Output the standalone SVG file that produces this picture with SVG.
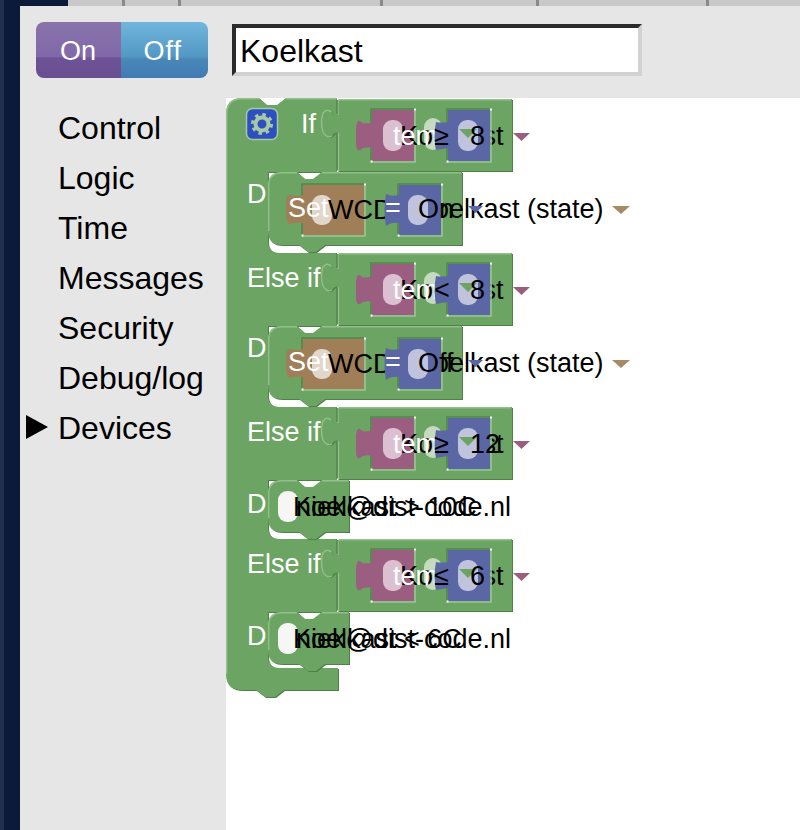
<svg xmlns="http://www.w3.org/2000/svg" xmlns:xlink="http://www.w3.org/1999/xlink" width="800" height="830" viewBox="0 0 800 830">
<style>
text{font-family:"Liberation Sans",Arial,sans-serif;font-size:27px;fill:#000}
.w{fill:#fff}
.menu{font-size:32px}
.g{fill:#6ba463}
.gd{fill:#4f8048}
.hl{fill:none;stroke:#93bf8d;stroke-width:1.4}
.sd{fill:none;stroke:#4f8048;stroke-width:1.2}
.edge{fill:none;stroke:#9cc596;stroke-width:1.6}
.edgeD{fill:none;stroke:#54864d;stroke-width:1.6}
.dot{fill:#fff}
.pink{fill:#9c5e80}
.blue{fill:#5b67a5}
.tan{fill:#a07e58}
</style>
<defs>
<linearGradient id="gOn" x1="0" y1="0" x2="0" y2="1"><stop offset="0" stop-color="#8874aa"/><stop offset=".62" stop-color="#8268aa"/><stop offset=".64" stop-color="#6e5296"/><stop offset="1" stop-color="#684f90"/></linearGradient>
<linearGradient id="gOff" x1="0" y1="0" x2="0" y2="1"><stop offset="0" stop-color="#70b6dc"/><stop offset=".62" stop-color="#5397c4"/><stop offset=".66" stop-color="#4a87b8"/><stop offset="1" stop-color="#3f7bb2"/></linearGradient>
<path id="mainShape" d="M226 114Q226 98 242 98H259L267 105H277L286 98H338V172H268V241Q268 253 280 253H338V326H268V395Q268 407 280 407H338V480H268V527Q268 539 280 539H338V612H268V656Q268 668 280 668H338V690H284L275 697H265L256 690H242Q226 690 226 674Z"/>
<path id="valShape" d="M338 99H512V171H338V133Q335 131 332 136Q327 139 323 132Q320 122 323 113Q327 108 331 112Q334 117 338 115Z"/>
<path id="nestLong" d="M268 186Q268 172 282 172H297L305 179H313L322 172H462V245H325L316 252H308L299 245H282Q268 245 268 231Z"/>
<path id="nestShort" d="M268 494Q268 480 282 480H297L305 487H313L322 480H349V532H325L316 539H308L299 532H282Q268 532 268 518Z"/>
<g id="cond">
<use xlink:href="#valShape" transform="translate(1 1)" class="gd"/>
<use xlink:href="#valShape" class="g"/>
<path class="hl" d="M338 99.700H511M331 112Q327 108 323 113Q320 122 323 132Q327 139 332 136M338 99V115M338.500 133V171"/>
<path class="sd" d="M337 99V114M337 134V171"/>
<rect class="dot" x="337" y="98" width="1.500" height="2"/>
<rect class="dot" x="337" y="170.500" width="1.500" height="2"/>
<path class="edgeD" d="M371 162V109H415"/>
<path class="edge" d="M415 109V162H371"/>
<path class="pink" d="M372 110H414V161H372V148Q364 146 360 150Q356 152 356 142V128Q357 118 361 122Q365 125 372 122Z"/>
<rect class="dot" x="414" y="108.500" width="2" height="2"/>
<rect class="dot" x="370.500" y="160.500" width="2" height="2"/>
<rect x="383" y="120" width="20" height="31" rx="9" fill="#dac0d1"/>
<rect x="424" y="118" width="18" height="32" rx="9" fill="#c6dabf"/>
</g>
<g id="condBlue">
<path class="edgeD" d="M447 162V109H491"/>
<path class="edge" d="M491 109V162H447"/>
<path class="blue" d="M448 110H490V161H448V148Q441 149 436 150Q433 138 436 122Q441 123 448 122Z"/>
<rect class="dot" x="490" y="108.500" width="2" height="2"/>
<rect class="dot" x="446.500" y="160.500" width="2" height="2"/>
<rect x="458" y="120" width="20" height="31" rx="9" fill="#bfc3dd"/>
</g>
<path id="triG" class="g" d="M459 129H477L468 138Z"/>
<path id="triP" d="M513 133H530L521.500 141Z" fill="#9c5e80"/>
<g id="setBody">
<use xlink:href="#nestLong" transform="translate(1 1)" class="gd"/>
<use xlink:href="#nestLong" class="g"/>
<path class="hl" d="M322 172.700H461M268.700 231V186Q268.700 172.700 282 172.700H297"/>
<path class="edgeD" d="M302 236V184H365"/>
<path class="edge" d="M365 184V236H302"/>
<path class="tan" d="M303 185H364V235H303V223Q296 222 290 224Q286 224 286 212V206Q286 194 290 195Q296 197 303 195Z"/>
<rect class="dot" x="364" y="183.500" width="2" height="2"/>
<rect class="dot" x="301.500" y="234.500" width="2" height="2"/>
<rect x="312" y="195" width="20" height="30" rx="9" fill="#e0d6ca"/>
</g>
<g id="setBlue">
<path class="edgeD" d="M398 236V184H442"/>
<path class="edge" d="M442 184V236H398"/>
<path class="blue" d="M399 185H441V235H399V223Q391 222 386 226Q383 210 386 194Q391 197 399 195Z"/>
<rect class="dot" x="441" y="183.500" width="2" height="2"/>
<rect class="dot" x="397.500" y="234.500" width="2" height="2"/>
<rect x="408" y="195" width="20" height="30" rx="9" fill="#bfc3dd"/>
</g>
<g id="mailBody">
<use xlink:href="#nestShort" transform="translate(1 1)" class="gd"/>
<use xlink:href="#nestShort" class="g"/>
<path class="hl" d="M322 480.700H348M268.700 518V494Q268.700 480.700 282 480.700H297"/>
<rect x="278" y="491" width="20" height="31" rx="9" fill="#f6f6f4"/>
</g>
</defs>

<g id="page">
<rect width="800" height="830" fill="#0a1a38"/>
<rect width="4" height="830" fill="#20304f"/>
<rect x="68" width="732" height="6" fill="#c8c8c8"/>
<path d="M122 0h3v6h-3zM178 0h3v6h-3zM380 0h3v6h-3zM536 0h3v6h-3zM706 0h3v6h-3z" fill="#8a8a8a"/>
<rect x="20" y="6" width="780" height="824" fill="#e6e6e6"/>
<rect x="226" y="98" width="574" height="732" fill="#fff"/>
</g>

<g id="toggle">
<path d="M121 22H44a8 8 0 0 0-8 8V70a8 8 0 0 0 8 8H121Z" fill="url(#gOn)"/>
<path d="M121 22H200a8 8 0 0 1 8 8V70a8 8 0 0 1-8 8H121Z" fill="url(#gOff)"/>
<text class="w" x="60" y="60">On</text>
<text class="w" x="143.500" y="60" letter-spacing="1">Off</text>
</g>

<g id="name-field">
<rect x="232" y="24" width="410" height="52" fill="#d2d2d2"/>
<path d="M232 24H642L638 28H236V72L232 76Z" fill="#2b2b2b"/>
<rect x="236" y="28" width="402" height="44" fill="#fff"/>
<text x="240" y="62" style="font-size:32px">Koelkast</text>
</g>

<g id="menu">
<text class="menu" x="58" y="139">Control</text>
<text class="menu" x="58" y="189">Logic</text>
<text class="menu" x="58" y="239">Time</text>
<text class="menu" x="58" y="289">Messages</text>
<text class="menu" x="58" y="339">Security</text>
<text class="menu" x="58" y="389">Debug/log</text>
<text class="menu" x="58" y="439">Devices</text>
<path d="M26 415L48 427L26 439Z" fill="#000"/>
</g>

<g id="if-block">
<use xlink:href="#mainShape" transform="translate(1 1)" class="gd"/>
<use xlink:href="#mainShape" class="g"/>
<path class="hl" d="M226.700 674V114Q226.700 98.700 242 98.700H259M286 98.700H338"/>
<rect x="246.500" y="108.500" width="31" height="31" rx="6" fill="#2d50c0" stroke="#a9c8a5" stroke-width="1.500"/>
<circle cx="262" cy="124" r="6.500" fill="none" stroke="#a9c8a5" stroke-width="4"/>
<circle cx="262" cy="124" r="9.500" fill="none" stroke="#a9c8a5" stroke-width="3" stroke-dasharray="3.500 3.960"/>
<text class="w" x="301" y="133">If</text>
<text class="w" x="247" y="203">D</text>
<text class="w" x="247" y="287">Else if</text>
<text class="w" x="247" y="357">D</text>
<text class="w" x="247" y="441">Else if</text>
<text class="w" x="247" y="513">D</text>
<text class="w" x="247" y="573">Else if</text>
<text class="w" x="247" y="645">D</text>
</g>

<g id="cond-1">
<use xlink:href="#cond"/>
<text x="400" y="145">Koelkast</text>
<text class="w" x="393" y="145">tem</text>
<use xlink:href="#condBlue"/>
<text x="434" y="145">≥</text>
<use xlink:href="#triG"/>
<text x="470" y="145">8</text>
<use xlink:href="#triP"/>
</g>

<g id="set-on">
<use xlink:href="#setBody"/>
<text x="328" y="219">WCD</text>
<text class="w" x="288" y="217">Set</text>
<text x="416" y="218">Koelkast (state)</text>
<use xlink:href="#setBlue"/>
<text class="w" x="385" y="217">=</text>
<text x="418" y="218">On</text>
<path d="M468 206H483L475.500 213Z" fill="#5b67a5"/>
<path d="M612 206H630L621 214Z" fill="#a58a63"/>
</g>

<g id="cond-2" transform="translate(0 154)">
<use xlink:href="#cond"/>
<text x="400" y="145">Koelkast</text>
<text class="w" x="393" y="145">tem</text>
<use xlink:href="#condBlue"/>
<text x="434" y="145">&lt;</text>
<use xlink:href="#triG"/>
<text x="470" y="145">8</text>
<use xlink:href="#triP"/>
</g>

<g id="set-off" transform="translate(0 154)">
<use xlink:href="#setBody"/>
<text x="328" y="219">WCD</text>
<text class="w" x="288" y="217">Set</text>
<text x="416" y="218">Koelkast (state)</text>
<use xlink:href="#setBlue"/>
<text class="w" x="385" y="217">=</text>
<text x="418" y="218">Off</text>
<path d="M468 206H483L475.500 213Z" fill="#5b67a5"/>
<path d="M612 206H630L621 214Z" fill="#a58a63"/>
</g>

<g id="cond-3" transform="translate(0 308)">
<use xlink:href="#cond"/>
<text x="400" y="145">Koelkast</text>
<text class="w" x="393" y="145">tem</text>
<use xlink:href="#condBlue"/>
<text x="434" y="145">≥</text>
<use xlink:href="#triG"/>
<text x="470" y="145">12</text>
<use xlink:href="#triP"/>
</g>

<g id="mail-high">
<use xlink:href="#mailBody"/>
<text x="296" y="516">niek@dist-code.nl</text>
<text x="293" y="516">Koelkast &gt; 10C</text>
</g>

<g id="cond-4" transform="translate(0 440)">
<use xlink:href="#cond"/>
<text x="400" y="145">Koelkast</text>
<text class="w" x="393" y="145">tem</text>
<use xlink:href="#condBlue"/>
<text x="434" y="145">≤</text>
<use xlink:href="#triG"/>
<text x="470" y="145">6</text>
<use xlink:href="#triP"/>
</g>

<g id="mail-low" transform="translate(0 132)">
<use xlink:href="#mailBody"/>
<text x="296" y="516">niek@dist-code.nl</text>
<text x="293" y="516">Koelkast &lt; 6C</text>
</g>
</svg>
